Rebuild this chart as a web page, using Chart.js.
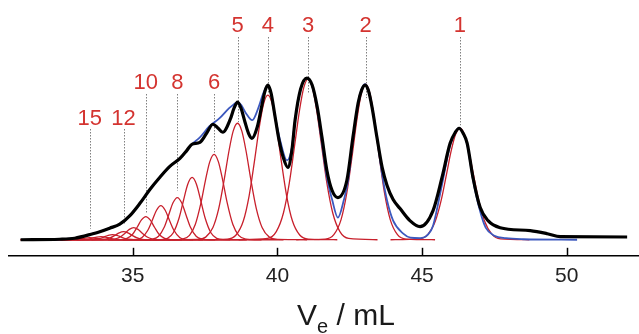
<!DOCTYPE html>
<html>
<head>
<meta charset="utf-8">
<script src="https://cdn.jsdelivr.net/npm/chart.js@4/dist/chart.umd.min.js"></script>
<style>
  html, body { margin: 0; padding: 0; background: #fff; }
  #wrap { width: 639px; height: 334px; position: relative; }
</style>
</head>
<body>
<div id="wrap"><canvas id="chart"></canvas></div>
<script>
// elution volume (mL) tick labels
const tickValues = [35, 40, 45, 50];

// oligomer labels above the trace
const peakLabels = ['1', '2', '3', '4', '5', '6', '8', '10', '12', '15'];
const labelVolumes = [46.31, 43.05, 41.06, 39.67, 38.62, 37.81, 36.54, 35.45, 34.68, 33.51];
const labelLineEnds = [114, 141, 146, 146, 117, 87, 49, 27, 16, 11];

// measured chromatogram (black): [Ve, signal]
const measured = [
  [31.12, 0], [32.47, 0.5], [32.99, 1.5], [33.62, 6], [33.86, 8], [34.20, 11.5],
  [34.55, 15.5], [34.90, 24], [35.24, 36], [35.59, 50], [35.93, 62], [36.28, 73],
  [36.63, 81], [36.87, 89], [37.04, 95],
  [37.32, 97], [37.55, 106], [37.77, 115], [37.95, 111], [38.11, 107], [38.37, 120],
  [38.50, 131], [38.62, 137], [38.74, 131], [38.88, 117], [39.00, 106], [39.12, 101],
  [39.30, 112], [39.45, 132], [39.57, 148], [39.67, 154], [39.78, 146], [39.91, 124],
  [40.05, 100], [40.20, 82], [40.36, 72], [40.50, 89], [40.61, 119], [40.80, 150],
  [41.02, 161], [41.20, 154], [41.37, 133], [41.54, 102], [41.71, 69], [41.89, 49],
  [42.09, 42], [42.40, 59], [42.61, 102], [42.79, 136], [42.91, 149], [43.03, 154],
  [43.15, 148], [43.27, 132], [43.44, 102], [43.62, 72], [43.79, 54], [44.00, 40],
  [44.24, 31], [44.58, 19], [44.93, 13], [45.38, 29], [45.69, 62], [45.97, 96],
  [46.15, 107], [46.28, 111], [46.42, 106], [46.56, 96], [46.76, 62], [47.01, 32],
  [47.28, 19], [47.70, 12], [48.74, 9], [49.33, 6], [49.78, 3], [52.09, 2.7]
];

// sum of fitted peaks (blue): [Ve, signal]
const fitSum = [
  [31.45, 0], [32.47, 0.5], [32.99, 1.5], [33.62, 6], [33.86, 8], [34.20, 11.5],
  [34.55, 15.5], [34.90, 24], [35.24, 36], [35.59, 50], [35.93, 62], [36.28, 73],
  [36.63, 81], [36.87, 89], [37.04, 95],
  [37.32, 102], [37.65, 113], [38.00, 121], [38.33, 131], [38.50, 135], [38.62, 137],
  [38.75, 134], [38.91, 126], [39.13, 119], [39.35, 132], [39.50, 145], [39.67, 154],
  [39.80, 143], [39.91, 124], [40.12, 96], [40.33, 79], [40.50, 92], [40.61, 119],
  [40.80, 150], [41.02, 161], [41.20, 153], [41.37, 131], [41.54, 96], [41.71, 62],
  [41.89, 40], [42.09, 22], [42.30, 40], [42.45, 60], [42.61, 100], [42.79, 136],
  [42.91, 150], [43.03, 155], [43.15, 149], [43.27, 132], [43.44, 102], [43.62, 65],
  [43.79, 39], [44.00, 19], [44.35, 6], [44.60, 2], [44.93, 1.5], [45.20, 5],
  [45.38, 14], [45.69, 55], [45.97, 94], [46.15, 107], [46.28, 111], [46.42, 106],
  [46.56, 95], [46.76, 60], [47.01, 28], [47.20, 12], [47.50, 4], [47.90, 1.5],
  [48.50, 0.5], [50.36, 0]
];

// fitted single-oligomer peaks (red): centre volume and signal at fixed offsets
const peakCenters = [46.31, 43.05, 41.06, 39.67, 38.62, 37.81, 37.05, 36.54, 35.97, 35.45, 35.03, 34.68, 34.30, 33.90, 33.51];
const peakOffsets = [-2.4, -1.4, -1.1, -0.85, -0.65, -0.45, -0.3, -0.15, 0, 0.15, 0.3, 0.45, 0.65, 0.85, 1.1, 1.4, 2.4];
const peakProfiles = [
  [0, 0.9, 5.6, 18.6, 39.1, 67.4, 88.9, 105.0, 111, 105.0, 88.9, 67.4, 39.1, 18.6, 5.6, 0.9, 0],
  [0, 0.6, 5.0, 20.0, 46.8, 87.3, 120.1, 145.4, 155, 145.4, 120.1, 87.3, 46.8, 20.0, 5.0, 0.6, 0],
  [0, 1.3, 8.1, 26.9, 56.3, 97.1, 128.2, 151.4, 160, 151.4, 128.2, 97.1, 56.3, 26.9, 8.1, 1.3, 0],
  [0, 0.6, 4.7, 18.6, 43.5, 81.1, 111.6, 135.1, 144, 135.1, 111.6, 81.1, 43.5, 18.6, 4.7, 0.6, 0],
  [0, 0.3, 2.6, 12.2, 31.0, 61.6, 87.6, 108.1, 116, 108.1, 87.6, 61.6, 31.0, 12.2, 2.6, 0.3, 0],
  [0, 0, 0.6, 4.4, 15.1, 37.1, 58.9, 77.5, 85, 77.5, 58.9, 37.1, 15.1, 4.4, 0.6, 0, 0],
  [0, 0, 0.1, 1.4, 6.9, 21.6, 38.8, 55.2, 62, 55.2, 38.8, 21.6, 6.9, 1.4, 0.1, 0, 0],
  [0, 0, 0, 0.6, 3.4, 12.6, 24.6, 36.8, 42, 36.8, 24.6, 12.6, 3.4, 0.6, 0, 0, 0],
  [0, 0, 0, 0.3, 2.3, 9.4, 19.1, 29.4, 34, 29.4, 19.1, 9.4, 2.3, 0.3, 0, 0, 0],
  [0, 0, 0, 0.2, 1.3, 5.7, 12.4, 19.7, 23, 19.7, 12.4, 5.7, 1.3, 0.2, 0, 0, 0],
  [0, 0, 0, 0.1, 0.7, 3.0, 6.5, 10.3, 12, 10.3, 6.5, 3.0, 0.7, 0.1, 0, 0, 0],
  [0, 0, 0, 0.1, 0.4, 2.0, 4.3, 6.9, 8, 6.9, 4.3, 2.0, 0.4, 0.1, 0, 0, 0],
  [0, 0, 0, 0, 0.3, 1.2, 2.7, 4.3, 5, 4.3, 2.7, 1.2, 0.3, 0, 0, 0, 0],
  [0, 0, 0, 0, 0.2, 0.7, 1.6, 2.6, 3, 2.6, 1.6, 0.7, 0.2, 0, 0, 0, 0],
  [0, 0, 0, 0, 0.1, 0.5, 1.1, 1.7, 2, 1.7, 1.1, 0.5, 0.1, 0, 0, 0, 0]
];

const FONT = '"Liberation Sans", Arial, Helvetica, sans-serif';
const RED_TEXT = 'rgb(212, 52, 48)';
const RED_LINE = 'rgb(200, 32, 44)';
const BLUE_LINE = 'rgb(60, 88, 190)';

// label rows (pixel layout)
const labelRow = [0, 0, 0, 0, 0, 1, 1, 1, 2, 2];
const rowBaseline = [32, 89, 125];
const rowLineTop = [37, 94, 129];

const toPoints = arr => arr.map(p => ({ x: p[0], y: p[1] }));

const datasets = [
  {
    data: toPoints(measured),
    borderColor: '#000',
    borderWidth: 3.2,
    pointRadius: 0,
    cubicInterpolationMode: 'monotone'
  },
  {
    data: toPoints(fitSum),
    borderColor: BLUE_LINE,
    borderWidth: 1.8,
    pointRadius: 0,
    cubicInterpolationMode: 'monotone'
  }
];
peakProfiles.forEach((prof, i) => {
  datasets.push({
    data: prof.map((y, k) => ({ x: peakCenters[i] + peakOffsets[k], y: y })),
    borderColor: RED_LINE,
    borderWidth: 1.3,
    pointRadius: 0,
    cubicInterpolationMode: 'monotone'
  });
});

const annotations = {
  id: 'annotations',
  beforeDatasetsDraw(chart) {
    const ctx = chart.ctx;
    const xs = chart.scales.x, ys = chart.scales.y;
    ctx.save();
    // dotted guide lines
    ctx.strokeStyle = '#808080';
    ctx.lineWidth = 1;
    ctx.setLineDash([1.5, 1.5]);
    labelVolumes.forEach((v, i) => {
      const px = Math.round(xs.getPixelForValue(v)) + 0.5;
      ctx.beginPath();
      ctx.moveTo(px, rowLineTop[labelRow[i]]);
      ctx.lineTo(px, ys.getPixelForValue(labelLineEnds[i]));
      ctx.stroke();
    });
    ctx.setLineDash([]);
    // labels
    ctx.fillStyle = RED_TEXT;
    ctx.font = '22px ' + FONT;
    ctx.textAlign = 'center';
    ctx.textBaseline = 'alphabetic';
    peakLabels.forEach((t, i) => {
      ctx.fillText(t, xs.getPixelForValue(labelVolumes[i]), rowBaseline[labelRow[i]]);
    });
    ctx.restore();
  },
  afterDraw(chart) {
    const ctx = chart.ctx;
    const xs = chart.scales.x;
    const bottom = chart.chartArea.bottom;
    ctx.save();
    // inward tick marks
    ctx.strokeStyle = '#000';
    ctx.lineWidth = 1.5;
    tickValues.forEach(v => {
      const px = Math.round(xs.getPixelForValue(v)) + 0.5;
      ctx.beginPath();
      ctx.moveTo(px, bottom);
      ctx.lineTo(px, bottom - 8);
      ctx.stroke();
    });
    // axis title  V_e / mL
    ctx.fillStyle = '#1a1a1a';
    ctx.textAlign = 'left';
    ctx.textBaseline = 'alphabetic';
    let x = 297;
    ctx.font = '30px ' + FONT;
    ctx.fillText('V', x, 325);
    x += ctx.measureText('V').width;
    ctx.font = '20px ' + FONT;
    ctx.fillText('e', x, 333);
    x += ctx.measureText('e').width;
    ctx.font = '30px ' + FONT;
    ctx.fillText(' / mL', x, 325);
    ctx.restore();
  }
};

new Chart(document.getElementById('chart'), {
  type: 'line',
  data: { datasets: datasets },
  plugins: [annotations],
  options: {
    responsive: true,
    maintainAspectRatio: false,
    animation: false,
    devicePixelRatio: 1,
    layout: { padding: { left: 9, right: 0, top: 0, bottom: 37 } },
    plugins: { legend: { display: false }, tooltip: { enabled: false } },
    scales: {
      x: {
        type: 'linear',
        min: 30.72,
        max: 52.5,
        afterBuildTicks: scale => { scale.ticks = tickValues.map(v => ({ value: v })); },
        grid: { display: false, drawTicks: false },
        border: { display: true, color: '#000', width: 1.5 },
        ticks: {
          padding: 8,
          color: '#222',
          font: { family: FONT, size: 21 },
          maxRotation: 0,
          autoSkip: false
        }
      },
      y: {
        display: false,
        min: -16,
        max: 238.7
      }
    }
  }
});
</script>
</body>
</html>
